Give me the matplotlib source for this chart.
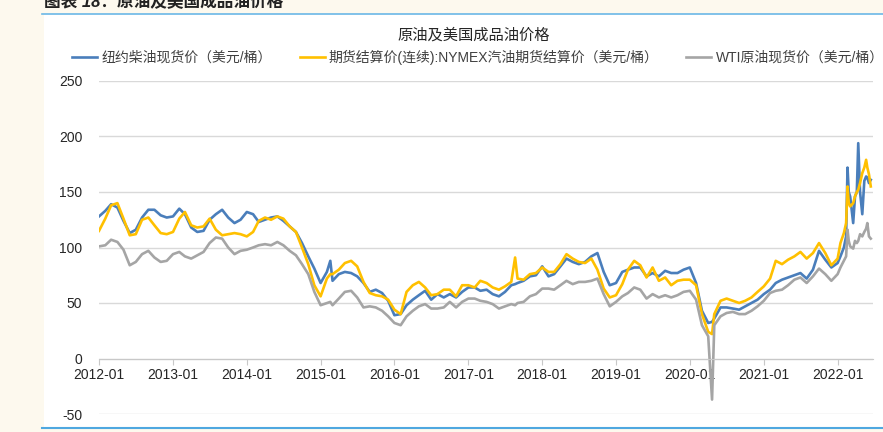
import pandas as pd
import matplotlib
matplotlib.use('Agg')
import matplotlib.pyplot as plt
import matplotlib.dates as mdates
from matplotlib.lines import Line2D
from matplotlib.patches import Rectangle

plt.rcParams['font.family'] = ['Liberation Sans', 'Noto Sans CJK SC']
plt.rcParams['axes.unicode_minus'] = False

# 月度数据 2012-01 ~ 2021-12（读图估计，美元/桶）
diesel = [128, 133, 139, 136, 124, 113, 116, 127, 134, 134, 129, 127,
          128, 135, 130, 118, 114, 115, 125, 130, 134, 127, 122, 125,
          132, 130, 123, 125, 127, 128, 124, 119, 114, 104, 92, 81,
          68, 78, 70, 76, 78, 77, 74, 68, 60, 62, 59, 52,
          39, 40, 48, 53, 57, 61, 53, 58, 55, 58, 55, 60,
          64, 64, 61, 62, 58, 56, 60, 66, 68, 70, 74, 75,
          83, 74, 76, 83, 90, 87, 85, 87, 92, 95, 78, 66,
          68, 78, 80, 82, 82, 74, 77, 74, 79, 77, 77, 80,
          82, 68, 43, 32, 36, 46, 46, 45, 44, 47, 50, 53,
          58, 62, 68, 71, 73, 75, 77, 72, 80, 97, 89, 82]
gasoline = [115, 126, 138, 140, 126, 111, 112, 125, 127, 120, 113, 112,
            114, 126, 132, 120, 118, 119, 126, 116, 111, 112, 113, 112,
            110, 114, 124, 127, 125, 128, 126, 119, 114, 100, 85, 66,
            56, 72, 76, 80, 86, 88, 83, 69, 59, 57, 56, 53,
            44, 40, 60, 66, 69, 64, 57, 58, 62, 62, 56, 66,
            66, 64, 70, 68, 64, 62, 65, 69, 72, 71, 76, 77,
            82, 78, 78, 85, 94, 90, 87, 86, 90, 80, 63, 55,
            57, 67, 80, 88, 84, 73, 82, 70, 73, 66, 70, 71,
            71, 66, 40, 24, 40, 52, 54, 52, 50, 52, 55, 60,
            65, 72, 88, 85, 89, 92, 96, 90, 95, 104, 95, 84]
wti = [101, 102, 107, 105, 98, 84, 87, 94, 97, 91, 87, 88,
       94, 96, 92, 90, 93, 96, 104, 109, 108, 100, 94, 97,
       98, 100, 102, 103, 102, 105, 102, 97, 93, 85, 76, 60,
       48, 50, 48, 54, 60, 61, 55, 46, 47, 46, 43, 38,
       32, 30, 38, 43, 47, 49, 45, 45, 46, 51, 46, 51,
       54, 54, 52, 51, 49, 45, 47, 49, 50, 51, 56, 58,
       63, 63, 62, 66, 70, 67, 69, 69, 70, 72, 58, 47,
       51, 56, 59, 64, 62, 54, 58, 55, 57, 55, 57, 60,
       61, 53, 30, 20, 30, 38, 41, 42, 40, 40, 43, 47,
       52, 59, 61, 62, 66, 71, 73, 68, 74, 81, 76, 70]

# 个别时点（尖峰与2022年走势）
extra_dates = ['2015-02-18', '2017-08-20', '2020-04-20',
               '2022-01-01', '2022-01-15', '2022-02-01', '2022-02-12', '2022-02-19',
               '2022-02-25', '2022-03-04', '2022-03-19', '2022-03-28', '2022-04-06',
               '2022-04-13', '2022-04-22', '2022-05-03', '2022-05-13', '2022-05-22',
               '2022-05-28', '2022-06-05', '2022-06-14']
extra_diesel = [88, 67, 33,
                86, 92, 100, 110, 172, 150, 146, 122, 146, 150,
                194, 150, 130, 160, 164, 163, 158, 161]
extra_gasoline = [76, 91, 22,
                  90, 104, 113, 122, 155, 140, 137, 140, 146, 150,
                  152, 158, 167, 172, 179, 172, 166, 155]
extra_wti = [51, 48, -37,
             76, 82, 88, 92, 116, 106, 101, 99, 106, 104,
             106, 112, 110, 114, 117, 122, 110, 108]

months = pd.date_range('2012-01-01', periods=len(diesel), freq='MS')
df = pd.concat([
    pd.DataFrame({'date': months, 'diesel': diesel, 'gasoline': gasoline, 'wti': wti}),
    pd.DataFrame({'date': pd.to_datetime(extra_dates), 'diesel': extra_diesel,
                  'gasoline': extra_gasoline, 'wti': extra_wti}),
]).sort_values('date')

fig = plt.figure(figsize=(8.83, 4.32), dpi=100)
fig.patch.set_facecolor('#FDF9EE')
# 白色图区与蓝色边线
fig.patches.append(Rectangle((44 / 883, 4 / 432), 1, 414 / 432, transform=fig.transFigure,
                             facecolor='white', edgecolor='none', zorder=-5))
fig.lines.append(Line2D([42 / 883, 1], [1 - 14 / 432] * 2, transform=fig.transFigure,
                        color='#6BB8E6', lw=1.2))
fig.lines.append(Line2D([42 / 883, 1], [4 / 432] * 2, transform=fig.transFigure,
                        color='#4FA8E0', lw=1.5))

fig.text(0.05, 1 - 2 / 432, '图表 18：原油及美国成品油价格', fontsize=12, fontweight='bold',
         style='italic', va='center', ha='left', color='#222222')

ax = fig.add_axes([99 / 883, 18 / 432, 774 / 883, 333 / 432])
ax.set_facecolor('none')

ax.plot(df['date'], df['diesel'], color='#4A7EBB', lw=1.9, label='纽约柴油现货价（美元/桶）')
ax.plot(df['date'], df['gasoline'], color='#FFC000', lw=1.9,
        label='期货结算价(连续):NYMEX汽油期货结算价（美元/桶）')
ax.plot(df['date'], df['wti'], color='#A5A5A5', lw=1.9, label='WTI原油现货价（美元/桶）')

ax.set_ylim(-50, 250)
ax.set_yticks(range(-50, 251, 50))
ax.set_xlim(pd.Timestamp('2012-01-01'), pd.Timestamp('2022-06-25'))
ax.xaxis.set_major_locator(mdates.YearLocator())
ax.xaxis.set_major_formatter(mdates.DateFormatter('%Y-%m'))

ax.grid(axis='y', color='#D9D9D9', lw=1)
ax.set_axisbelow(True)
for s in ['left', 'right', 'top']:
    ax.spines[s].set_visible(False)
ax.spines['bottom'].set_position(('data', 0))
ax.spines['bottom'].set_color('#C8C8C8')
ax.tick_params(axis='y', length=0, pad=12, labelsize=10, labelcolor='#262626')
ax.tick_params(axis='x', length=4, color='#C8C8C8', pad=3, labelsize=10, labelcolor='#262626')

fig.text(474 / 883, 1 - 35 / 432, '原油及美国成品油价格', fontsize=11, ha='center', va='center',
         color='#262626')
fig.legend(loc='center', bbox_to_anchor=(478 / 883, 1 - 57 / 432), ncol=3, frameon=False,
           fontsize=10, handlelength=1.8, handletextpad=0.3, columnspacing=2.0,
           labelcolor='#404040')

fig.savefig('out.png', dpi=100, facecolor=fig.get_facecolor())
